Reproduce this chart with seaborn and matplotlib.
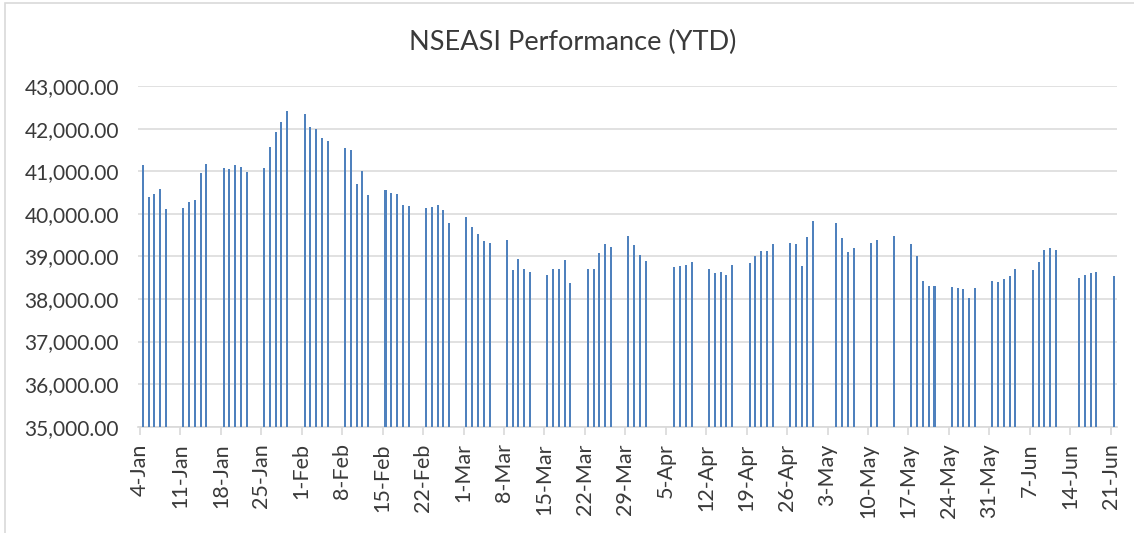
import pandas as pd
import numpy as np
import seaborn as sns
import matplotlib.pyplot as plt
import matplotlib.dates as mdates
from matplotlib.patches import Rectangle
from matplotlib.ticker import FuncFormatter

# trading days 2021 (weekdays minus exchange holidays)
start = "2021-01-04"
end = "2021-06-21"
holidays = ["2021-04-02", "2021-04-05", "2021-05-03",
            "2021-05-12", "2021-05-13", "2021-06-14"]

# NSE All-Share Index closes
asi = [
    41136, 40385, 40455, 40580, 40103,
    40141, 40282, 40329, 40948, 41160,
    41066, 41042, 41136, 41089, 40986,
    41066, 41566, 41918, 42160, 42404,
    42347, 42028, 41988, 41770, 41700,
    41549, 41495, 40690, 41009, 40432,
    40563, 40479, 40455, 40204, 40174,
    40141, 40157, 40211, 40087, 39789,
    39923, 39688, 39516, 39352, 39319,
    39383, 38678, 38930, 38695, 38638,
    38554, 38709, 38695, 38906, 38373,
    38709, 38695, 39077, 39282, 39211,
    39484, 39258, 39031, 38897,
    38756, 38765, 38796, 38859,
    38702, 38601, 38624, 38561, 38796,
    38843, 39007, 39117, 39124, 39289,
    39305, 39296, 38772, 39446, 39822,
    39782, 39423, 39094, 39188,
    39305, 39376, 39469,
    39296, 39014, 38427, 38310, 38310,
    38279, 38249, 38225, 38028, 38249,
    38420, 38404, 38467, 38531, 38709,
    38671, 38866, 39155, 39195, 39141,
    38491, 38554, 38601, 38638,
    38531,
]

days = pd.bdate_range(start, end)
days = days[~days.isin(pd.to_datetime(holidays))]
df = pd.DataFrame({"date": days, "asi": asi})
# excel date axis puts each column in the middle of its day
df["x"] = mdates.date2num(df["date"]) + 0.5

sns.set_theme(style="white")
plt.rcParams["font.family"] = ["Lato", "DejaVu Sans"]
text_col = "#3A3A3A"
grid_col = "#D9D9D9"

fig = plt.figure(figsize=(11.34, 5.33), dpi=100)
ax = fig.add_axes([0.1221, 0.1994, 0.8625, 0.6392])

sns.barplot(data=df, x="x", y="asi", native_scale=True, width=0.35,
            color="#4F81BD", saturation=1, errorbar=None, linewidth=0,
            ax=ax, zorder=3)

ticks = pd.date_range(start, end, freq="7D")
ax.set_xticks(mdates.date2num(ticks))
ax.set_xticklabels([f"{d.day}-{d.strftime('%b')}" for d in ticks],
                   rotation=90, fontsize=15.5, color=text_col)
ax.set_xlim(mdates.date2num(pd.Timestamp(start)) - 0.25,
            mdates.date2num(pd.Timestamp(end)) + 1.0)

ax.set_ylim(35000, 43000)
ax.set_yticks(np.arange(35000, 43001, 1000))
ax.yaxis.set_major_formatter(FuncFormatter(lambda v, p: f"{v:,.2f}"))
ax.tick_params(axis="y", length=0, pad=14, labelsize=15, labelcolor=text_col)
ax.tick_params(axis="x", length=6, width=1.2, color=grid_col, pad=6,
               bottom=True)

ax.grid(axis="y", color=grid_col, lw=1.1, zorder=0)
ax.set_axisbelow(True)
for s in ["top", "right", "left"]:
    ax.spines[s].set_visible(False)
ax.spines["bottom"].set_color(grid_col)
ax.spines["bottom"].set_linewidth(1.2)
ax.set_xlabel("")
ax.set_ylabel("")

fig.text(573 / 1134, 1 - 42 / 533, "NSEASI Performance (YTD)",
         ha="center", va="center", fontsize=19.5, color=text_col)

# chart border (only left and top edges fall inside the crop)
fig.patches.append(Rectangle((4.5 / 1134, -0.1), 1.2, 1.1 - 3 / 533,
                             transform=fig.transFigure, fill=False,
                             edgecolor=grid_col, lw=1.2))

fig.savefig("out.png", dpi=100)
